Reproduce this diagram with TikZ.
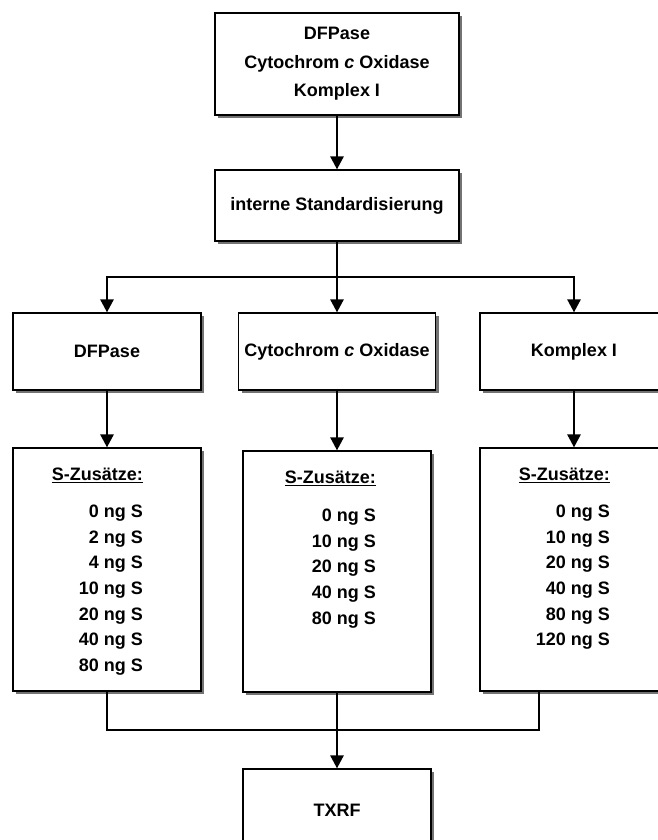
\documentclass[tikz,border=0pt]{standalone}
\usepackage{fontspec}
\setmainfont{Liberation Sans}
\usetikzlibrary{arrows.meta,shadows}

\begin{document}
\begin{tikzpicture}[
        x=1pt, y=-1pt,
        box/.style={draw, line width=1.2pt, fill=white,
            drop shadow={shadow xshift=3pt, shadow yshift=-3pt, fill=black!55, opacity=1},
            font=\bfseries\fontsize{18}{28.5}\selectfont, align=center, inner sep=0pt},
        arr/.style={line width=2.6pt, -{Triangle[width=13pt,length=13pt]}},
        link/.style={line width=2.6pt},
        list/.style={font=\bfseries\fontsize{18}{25.7}\selectfont, align=right, inner sep=0pt, anchor=north east}
    ]
        \useasboundingbox (0,0) rectangle (657,840);

        % upper part
        \node[box, minimum width=244pt, minimum height=102pt] (top) at (337,64) {DFPase\\Cytochrom \textit{c} Oxidase\\Komplex I};
        \node[box, minimum width=244pt, minimum height=71pt] (std) at (337,205.5) {interne Standardisierung};

        \node[box, minimum width=188pt, minimum height=77pt] (dfp) at (107,351.5) {DFPase};
        \node[box, minimum width=197pt, minimum height=77pt] (cyt) at (337,351.5) {Cytochrom \textit{c} Oxidase};
        \node[box, minimum width=188pt, minimum height=77pt] (kom) at (574,351.5) {Komplex I};

        % sulfur additions
        \node[box, minimum width=188pt, minimum height=243pt] (dfpS) at (107,569.5) {};
        \node[box, minimum width=188pt, minimum height=241pt] (cytS) at (337,571.5) {};
        \node[box, minimum width=188pt, minimum height=243pt] (komS) at (574,569.5) {};

        \node[list] (dfpL) at (143,468) {\underline{S-Zusätze:}\\[11pt]0 ng S\\2 ng S\\4 ng S\\10 ng S\\20 ng S\\40 ng S\\80 ng S};
        \node[list] (cytL) at (376,471) {\underline{S-Zusätze:}\\[12pt]0 ng S\\10 ng S\\20 ng S\\40 ng S\\80 ng S};
        \node[list] (komL) at (610,468) {\underline{S-Zusätze:}\\[11pt]0 ng S\\10 ng S\\20 ng S\\40 ng S\\80 ng S\\120 ng S};

        \node[box, minimum width=188pt, minimum height=82pt] (txrf) at (337,810) {TXRF};

        % connectors
        \coordinate (hub) at (337,277);
        \coordinate (join) at (337,730);

        \draw[arr] (top) -- (std);
        \draw[link] (std) -- (hub);
        \draw[arr] (hub) -| (dfp);
        \draw[arr] (hub) -- (cyt);
        \draw[arr] (hub) -| (kom);

        \draw[arr] (dfp) -- (dfpS);
        \draw[arr] (cyt) -- (cytS);
        \draw[arr] (kom) -- (komS);

        \draw[link] (dfpS) |- (join);
        \draw[link] ([xshift=-35pt]komS.south) |- (join);
        \draw[arr] (cytS) -- (txrf);
    \end{tikzpicture}
\end{document}
